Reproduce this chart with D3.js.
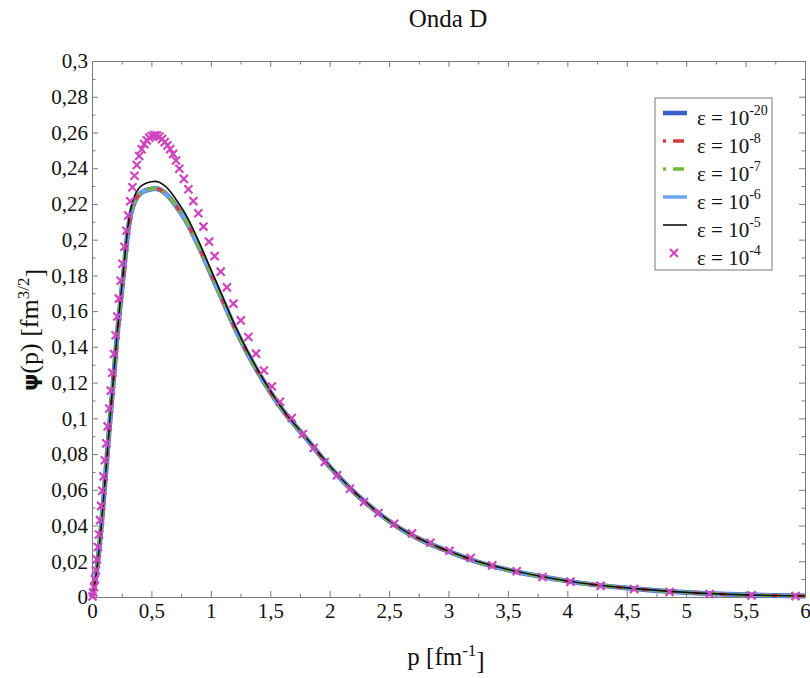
<!DOCTYPE html>
<html>
<head>
<meta charset="utf-8">
<script src="https://cdn.jsdelivr.net/npm/d3@7"></script>
<style>
  html, body { margin: 0; padding: 0; background: #fff; }
  svg text { font-family: "Liberation Serif", "Times New Roman", serif; fill: #111; }
</style>
</head>
<body>
<svg id="chart" width="810" height="678"></svg>
<script>
// ---------------- DATA ----------------
const xTicks = [0, 0.5, 1, 1.5, 2, 2.5, 3, 3.5, 4, 4.5, 5, 5.5, 6];
const xTickLabels = ["0", "0,5", "1", "1,5", "2", "2,5", "3", "3,5", "4", "4,5", "5", "5,5", "6"];
const yTicks = [0, 0.02, 0.04, 0.06, 0.08, 0.1, 0.12, 0.14, 0.16, 0.18, 0.2, 0.22, 0.24, 0.26, 0.28, 0.3];
const yTickLabels = ["0", "0,02", "0,04", "0,06", "0,08", "0,1", "0,12", "0,14", "0,16", "0,18", "0,2", "0,22", "0,24", "0,26", "0,28", "0,3"];

const pGrid = [0, 0.02, 0.04, 0.06, 0.08, 0.10, 0.12, 0.15, 0.18, 0.21, 0.24, 0.27, 0.30, 0.33, 0.36, 0.40,
  0.45, 0.50, 0.53, 0.56, 0.60, 0.65, 0.70, 0.80, 0.90, 1.00, 1.10, 1.20, 1.30, 1.40, 1.50, 1.60, 1.80,
  2.00, 2.20, 2.40, 2.60, 2.80, 3.00, 3.25, 3.50, 3.75, 4.00, 4.50, 5.00, 5.50, 6.00];

const psiE20 = [0, 0.006, 0.015, 0.027, 0.041, 0.057, 0.073, 0.098, 0.121, 0.145, 0.165, 0.184, 0.2035, 0.2155, 0.2215, 0.2255,
  0.2275, 0.2284, 0.2286, 0.2283, 0.2268, 0.2238, 0.2195, 0.2095, 0.196, 0.181, 0.166, 0.151, 0.1375, 0.1255, 0.1148, 0.105, 0.089,
  0.073, 0.059, 0.0475, 0.038, 0.031, 0.0255, 0.0195, 0.0152, 0.0118, 0.0089, 0.0050, 0.0025, 0.0012, 0.0006];
const psiE8 = [0, 0.006, 0.015, 0.027, 0.041, 0.057, 0.073, 0.098, 0.121, 0.145, 0.165, 0.184, 0.2035, 0.2155, 0.2215, 0.2256,
  0.2276, 0.2285, 0.2287, 0.2284, 0.2269, 0.2239, 0.2196, 0.2096, 0.1961, 0.1811, 0.1661, 0.151, 0.1375, 0.1255, 0.1148, 0.105, 0.089,
  0.073, 0.059, 0.0475, 0.038, 0.031, 0.0255, 0.0195, 0.0152, 0.0118, 0.0089, 0.0050, 0.0025, 0.0012, 0.0006];
const psiE7 = [0, 0.006, 0.015, 0.027, 0.041, 0.057, 0.073, 0.098, 0.121, 0.145, 0.165, 0.184, 0.2035, 0.2155, 0.2215, 0.2256,
  0.2277, 0.2286, 0.2288, 0.2285, 0.2270, 0.2240, 0.2196, 0.2096, 0.1961, 0.1811, 0.1661, 0.151, 0.1375, 0.1255, 0.1148, 0.105, 0.089,
  0.073, 0.059, 0.0475, 0.038, 0.031, 0.0255, 0.0195, 0.0152, 0.0118, 0.0089, 0.0050, 0.0025, 0.0012, 0.0006];
const psiE6 = [0, 0.006, 0.015, 0.027, 0.041, 0.057, 0.073, 0.098, 0.121, 0.145, 0.165, 0.184, 0.2035, 0.2155, 0.2215, 0.2255,
  0.2275, 0.2284, 0.2286, 0.2283, 0.2268, 0.2238, 0.2195, 0.2095, 0.196, 0.181, 0.166, 0.151, 0.1375, 0.1255, 0.1148, 0.105, 0.089,
  0.073, 0.059, 0.0475, 0.038, 0.031, 0.0255, 0.0195, 0.0152, 0.0118, 0.0089, 0.0050, 0.0025, 0.0012, 0.0006];
const psiE5 = [0, 0.006, 0.015, 0.027, 0.041, 0.057, 0.073, 0.0985, 0.122, 0.146, 0.1665, 0.186, 0.2058, 0.2183, 0.2248, 0.2292,
  0.2314, 0.2324, 0.2326, 0.2323, 0.2308, 0.2277, 0.2232, 0.2128, 0.1988, 0.1833, 0.1679, 0.1524, 0.1388, 0.1265, 0.1155, 0.1055, 0.0893,
  0.0733, 0.0593, 0.0478, 0.0383, 0.0312, 0.0257, 0.0197, 0.0154, 0.0119, 0.009, 0.0051, 0.0026, 0.0012, 0.0006];

const pE4 = [0.004, 0.010, 0.017, 0.025, 0.033, 0.041, 0.050, 0.059, 0.068, 0.077, 0.087, 0.097, 0.108, 0.120, 0.132, 0.145,
  0.158, 0.171, 0.185, 0.199, 0.213, 0.227, 0.242, 0.257, 0.273, 0.289, 0.305, 0.322, 0.340, 0.358, 0.377, 0.397, 0.418, 0.440,
  0.461, 0.482, 0.503, 0.524, 0.545, 0.567, 0.589, 0.612, 0.635, 0.658, 0.682, 0.707, 0.735, 0.773, 0.811, 0.853, 0.895, 0.938,
  0.985, 1.032, 1.083, 1.135, 1.190, 1.252, 1.316, 1.380, 1.447, 1.514, 1.582, 1.681, 1.775, 1.865, 1.958, 2.062, 2.170, 2.289,
  2.410, 2.543, 2.693, 2.848, 3.009, 3.187, 3.368, 3.574, 3.791, 4.026, 4.280, 4.562, 4.860, 5.198, 5.550, 5.920];
const psiE4 = [0.0003, 0.0025, 0.0055, 0.0100, 0.0150, 0.0210, 0.0280, 0.0350, 0.0430, 0.0510, 0.0595, 0.0675, 0.0765, 0.0860, 0.0955, 0.1055,
  0.1155, 0.1255, 0.1360, 0.1465, 0.1570, 0.1670, 0.1770, 0.1865, 0.1960, 0.2050, 0.2135, 0.2215, 0.2293, 0.2358, 0.2418, 0.2468, 0.2506, 0.2535,
  0.2556, 0.2571, 0.2580, 0.2584, 0.2584, 0.2577, 0.2563, 0.2546, 0.2528, 0.2507, 0.2480, 0.2443, 0.2397, 0.2340, 0.2282, 0.2216, 0.2148, 0.2073,
  0.1989, 0.1908, 0.1821, 0.1733, 0.1642, 0.1548, 0.1455, 0.1362, 0.1268, 0.1178, 0.1093, 0.1002, 0.0912, 0.0834, 0.0756, 0.0681, 0.0606, 0.0532,
  0.0470, 0.0410, 0.0356, 0.0304, 0.0259, 0.0218, 0.0177, 0.0144, 0.0112, 0.0086, 0.0062, 0.0045, 0.0028, 0.0017, 0.0009, 0.0005];

const legendExps = ["-20", "-8", "-7", "-6", "-5", "-4"];

// ---------------- CHART ----------------
const svg = d3.select("#chart");
const x = d3.scaleLinear().domain([0, 6]).range([92, 805]);
const y = d3.scaleLinear().domain([0, 0.3]).range([597, 61]);
const frameColor = "#7a7a7a";

const xMinor = d3.range(0, 6.001, 0.25).filter(v => Math.abs(v * 2 - Math.round(v * 2)) > 1e-6);
const yMinor = d3.range(0, 0.3001, 0.01).filter(v => Math.abs(v * 50 - Math.round(v * 50)) > 1e-6);

function styleAxis(g) {
  g.selectAll("path, line").attr("stroke", frameColor).attr("stroke-width", 1);
  g.selectAll("text").style("font-size", "21px").attr("fill", "#111");
}

// Bottom axis
svg.append("g").attr("transform", `translate(0,${y(0)})`)
  .call(d3.axisBottom(x).tickValues(xTicks).tickFormat((d, i) => xTickLabels[i]).tickSize(-6).tickSizeOuter(0).tickPadding(6))
  .call(styleAxis);
svg.append("g").attr("transform", `translate(0,${y(0)})`)
  .call(d3.axisBottom(x).tickValues(xMinor).tickFormat("").tickSize(-3.5).tickSizeOuter(0))
  .call(styleAxis);
// Top axis
svg.append("g").attr("transform", `translate(0,${y(0.3)})`)
  .call(d3.axisTop(x).tickValues(xTicks).tickFormat("").tickSize(-6).tickSizeOuter(0))
  .call(styleAxis);
svg.append("g").attr("transform", `translate(0,${y(0.3)})`)
  .call(d3.axisTop(x).tickValues(xMinor).tickFormat("").tickSize(-3.5).tickSizeOuter(0))
  .call(styleAxis);
// Left axis
svg.append("g").attr("transform", `translate(${x(0)},0)`)
  .call(d3.axisLeft(y).tickValues(yTicks).tickFormat((d, i) => yTickLabels[i]).tickSize(-6).tickSizeOuter(0).tickPadding(4))
  .call(styleAxis);
svg.append("g").attr("transform", `translate(${x(0)},0)`)
  .call(d3.axisLeft(y).tickValues(yMinor).tickFormat("").tickSize(-3.5).tickSizeOuter(0))
  .call(styleAxis);
// Right axis
svg.append("g").attr("transform", `translate(${x(6)},0)`)
  .call(d3.axisRight(y).tickValues(yTicks).tickFormat("").tickSize(-6).tickSizeOuter(0))
  .call(styleAxis);
svg.append("g").attr("transform", `translate(${x(6)},0)`)
  .call(d3.axisRight(y).tickValues(yMinor).tickFormat("").tickSize(-3.5).tickSizeOuter(0))
  .call(styleAxis);

// Lines
const line = d3.line().x(d => x(d[0])).y(d => y(d[1])).curve(d3.curveMonotoneX);
const zip = (ps, vs) => ps.map((p, i) => [p, vs[i]]);

const seriesDefs = [
  { vals: psiE20, color: "#3b5fc9", width: 5, dash: null },
  { vals: psiE6, color: "#6aa6ef", width: 4, dash: null },
  { vals: psiE8, color: "#d83a3a", width: 3.2, dash: "3,7,9,7" },
  { vals: psiE7, color: "#7ab83a", width: 3.2, dash: "3,7,9,7" },
  { vals: psiE5, color: "#111111", width: 1.6, dash: null }
];
const plot = svg.append("g");
seriesDefs.forEach((s, k) => {
  plot.append("path")
    .datum(zip(pGrid, s.vals))
    .attr("d", line)
    .attr("fill", "none")
    .attr("stroke", s.color)
    .attr("stroke-width", s.width)
    .attr("stroke-dasharray", s.dash)
    .attr("stroke-dashoffset", k === 3 ? 10 : 0);
});

const cross = d3.symbol().type(d3.symbolX).size(44);
plot.selectAll("path.cross")
  .data(zip(pE4, psiE4))
  .join("path")
  .attr("class", "cross")
  .attr("transform", d => `translate(${x(d[0])},${y(d[1])})`)
  .attr("d", cross)
  .attr("fill", "none")
  .attr("stroke", "#cf45bd")
  .attr("stroke-width", 2.2);

// Title
svg.append("text").attr("x", 448).attr("y", 27).attr("text-anchor", "middle")
  .style("font-size", "25px").text("Onda D");

// X label
const xl = svg.append("text").attr("x", 446).attr("y", 665).attr("text-anchor", "middle").style("font-size", "25px");
xl.append("tspan").text("p [fm");
xl.append("tspan").attr("dy", "-0.55em").style("font-size", "17px").text("-1");
xl.append("tspan").attr("dy", "0.55em").text("]");

// Y label
const yl = svg.append("text").attr("transform", "translate(38,330) rotate(-90)").attr("text-anchor", "middle").style("font-size", "26px");
yl.append("tspan").style("font-weight", "bold").style("font-family", "'DejaVu Sans', sans-serif").style("font-size", "22px").text("ψ");
yl.append("tspan").text("(p) [fm");
yl.append("tspan").attr("dy", "-0.55em").style("font-size", "17px").text("3/2");
yl.append("tspan").attr("dy", "0.55em").text("]");

// Legend
const lg = svg.append("g");
lg.append("rect").attr("x", 655).attr("y", 98).attr("width", 117).attr("height", 172)
  .attr("fill", "#fff").attr("stroke", "#777").attr("stroke-width", 1);
const legendStyles = [
  { color: "#3b5fc9", width: 4.5, dash: null, type: "line" },
  { color: "#d83a3a", width: 3.5, dash: "3,7,11,7", type: "line" },
  { color: "#7ab83a", width: 3.5, dash: "3,7,11,7", type: "line" },
  { color: "#6aa6ef", width: 3.5, dash: null, type: "line" },
  { color: "#111111", width: 1.6, dash: null, type: "line" },
  { color: "#cf45bd", width: 2.2, dash: null, type: "cross" }
];
legendExps.forEach((e, i) => {
  const yy = 113 + i * 28;
  const st = legendStyles[i];
  if (st.type === "line") {
    lg.append("line").attr("x1", 663).attr("x2", 687).attr("y1", yy).attr("y2", yy)
      .attr("stroke", st.color).attr("stroke-width", st.width).attr("stroke-dasharray", st.dash);
  } else {
    lg.append("path").attr("transform", `translate(674,${yy})`).attr("d", cross)
      .attr("fill", "none").attr("stroke", st.color).attr("stroke-width", st.width);
  }
  const t = lg.append("text").attr("x", 697).attr("y", yy + 12).style("font-size", "21px");
  t.append("tspan").text("ε = 10");
  t.append("tspan").attr("dy", "-0.75em").style("font-size", "14px").text(e);
});
</script>
</body>
</html>
